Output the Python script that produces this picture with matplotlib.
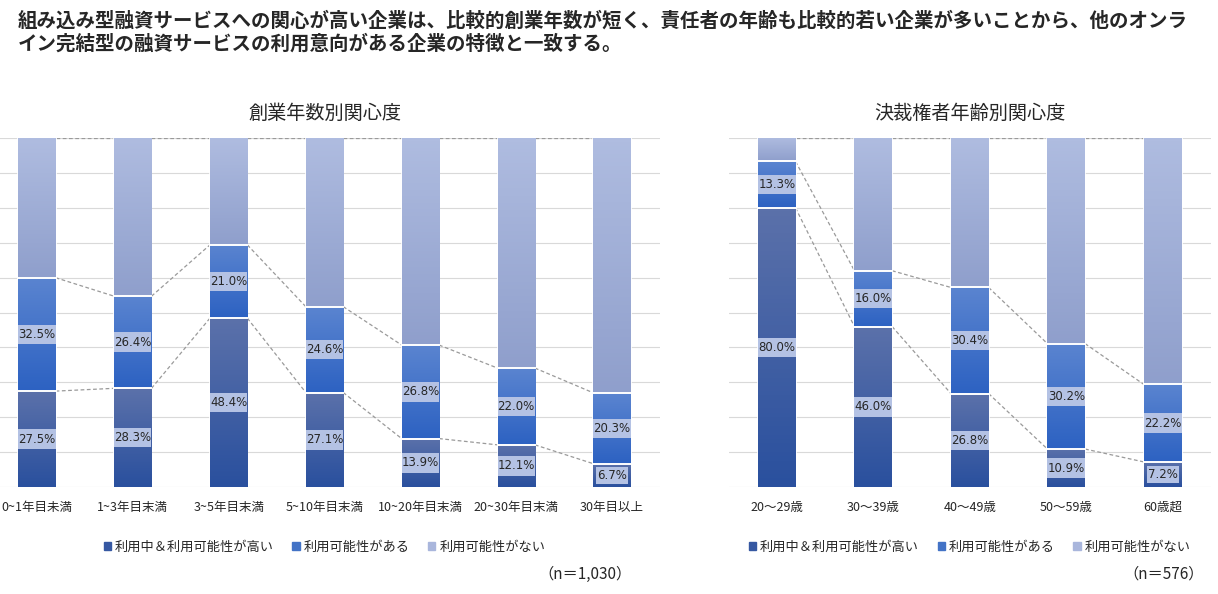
import matplotlib
matplotlib.use("Agg")
import matplotlib.pyplot as plt
import numpy as np
from matplotlib.colors import LinearSegmentedColormap
from matplotlib.patches import Patch

plt.rcParams['font.family'] = ['Noto Sans CJK JP', 'DejaVu Sans']

# data
title = ("組み込み型融資サービスへの関心が高い企業は、比較的創業年数が短く、責任者の年齢も比較的若い企業が多いことから、他のオンラ\n"
         "イン完結型の融資サービスの利用意向がある企業の特徴と一致する。")
series_names = ["利用中＆利用可能性が高い", "利用可能性がある", "利用可能性がない"]

years_cats = ["0~1年目未満", "1~3年目末満", "3~5年目末満", "5~10年目末満",
              "10~20年目末満", "20~30年目末満", "30年目以上"]
years_high = [27.5, 28.3, 48.4, 27.1, 13.9, 12.1, 6.7]
years_maybe = [32.5, 26.4, 21.0, 24.6, 26.8, 22.0, 20.3]
years_n = "（n＝1,030）"

age_cats = ["20～29歳", "30～39歳", "40～49歳", "50～59歳", "60歳超"]
age_high = [80.0, 46.0, 26.8, 10.9, 7.2]
age_maybe = [13.3, 16.0, 30.4, 30.2, 22.2]
age_n = "（n＝576）"

# gradient colours per segment (top, bottom)
grads = [("#5b71aa", "#2a509e"), ("#5a84d0", "#2d62c2"), ("#afbce0", "#8f9fcc")]
legend_cols = ["#3658a2", "#4373c6", "#a9b6dc"]
label_bg = "#b4c2e4"

W = 0.39
LBL_H = 5.6  # label box height in % units


def draw_panel(ax, cats, high, maybe, subtitle, ntext, nx):
    high = np.array(high)
    maybe = np.array(maybe)
    none = 100 - high - maybe
    x = np.arange(len(cats))
    bottoms = [np.zeros(len(x)), high, high + maybe]
    vals = [high, maybe, none]
    for k in range(3):
        bars = ax.bar(x, vals[k], W, bottom=bottoms[k], color=grads[k][1],
                      edgecolor="white", linewidth=1.2, zorder=2)
        cmap = LinearSegmentedColormap.from_list("g%d" % k, [grads[k][1], grads[k][0]])
        for b in bars:
            x0, y0 = b.get_x(), b.get_y()
            im = ax.imshow(np.linspace(0, 1, 64).reshape(-1, 1), cmap=cmap,
                           extent=[x0, x0 + b.get_width(), y0, y0 + b.get_height()],
                           origin="lower", aspect="auto", zorder=2.5)
            im.set_clip_path(b)
        # white separator on top
        for xi, top in zip(x, bottoms[k] + vals[k]):
            if top < 99.9:
                ax.plot([xi - W / 2, xi + W / 2], [top, top], color="white", lw=1.4, zorder=3)
    # connector dashed lines
    for level in [high, high + maybe, np.full(len(x), 100.0)]:
        for i in range(len(x) - 1):
            ax.plot([x[i] + W / 2, x[i + 1] - W / 2], [level[i], level[i + 1]],
                    color="#9a9a9a", lw=0.9, ls=(0, (3, 2)), zorder=1.5)
    # data labels with background box the width of the bar
    for k in range(2):
        mids = bottoms[k] + vals[k] / 2
        for xi, m, v in zip(x, mids, vals[k]):
            small = v < 8
            ax.bar(xi, LBL_H - (0.6 if small else 0), W * (0.86 if small else 1),
                   bottom=m - LBL_H / 2 + (0.3 if small else 0), color=label_bg, zorder=3.5)
            ax.text(xi, m, "%.1f%%" % v, ha="center", va="center",
                    fontsize=8.5, color="#262626", family=["DejaVu Sans"], zorder=4)
    ax.set_xlim(-0.5, len(x) - 0.5)
    ax.set_ylim(0, 100)
    ax.set_yticks(np.arange(0, 101, 10))
    ax.yaxis.grid(True, color="#d9d9d9", lw=0.8, zorder=0)
    ax.set_axisbelow(True)
    ax.tick_params(axis="y", left=False, labelleft=False)
    ax.tick_params(axis="x", length=0, labelsize=9, pad=10, colors="#262626")
    ax.set_xticks(x)
    ax.set_xticklabels(cats)
    for s in ax.spines.values():
        s.set_visible(False)
    ax.set_title(subtitle, fontsize=13.8, color="#262626", pad=14)
    handles = [Patch(color=c) for c in legend_cols]
    ax.legend(handles, series_names, loc="upper center", bbox_to_anchor=(0.5, -0.12),
              ncol=3, frameon=False, fontsize=9.5, handlelength=0.55, handleheight=0.55,
              handletextpad=0.3, columnspacing=1.4, labelcolor="#262626")
    ax.text(nx, -0.25, ntext, transform=ax.transAxes, ha="right", va="center",
            fontsize=11, color="#262626")


fig = plt.figure(figsize=(12.18, 5.94), dpi=100)
ax1 = fig.add_axes([-11 / 1218, 0.18, 671 / 1218, 0.5875])
ax2 = fig.add_axes([728.5 / 1218, 0.18, 482.5 / 1218, 0.5875])
draw_panel(ax1, years_cats, years_high, years_maybe, "創業年数別関心度", years_n, 0.957)
draw_panel(ax2, age_cats, age_high, age_maybe, "決裁権者年齢別関心度", age_n, 0.985)

fig.text(18 / 1218, 1 - 11 / 594, title, ha="left", va="top", fontsize=14,
         fontweight="bold", color="#262626", linespacing=1.25)

fig.savefig("out.png", dpi=100)
